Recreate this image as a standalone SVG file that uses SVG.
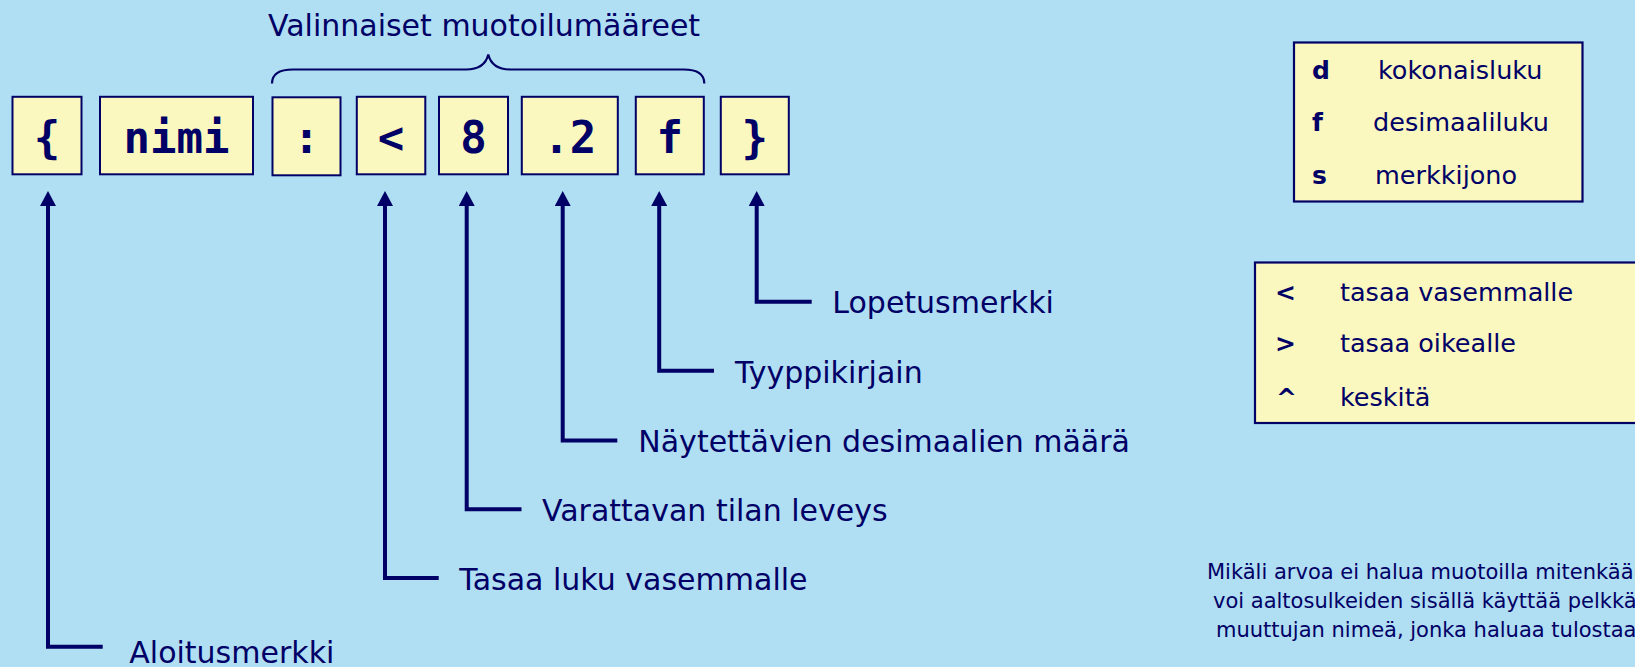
<svg xmlns="http://www.w3.org/2000/svg" width="1635" height="667" viewBox="0 0 1635 667">
<style>
.bg{fill:#B0DEF2}
.box{fill:#FAF8BE;stroke:#000066;stroke-width:2}
.lg{fill:#FAF8BE;stroke:#000066;stroke-width:2.2}
.mono{font-family:"DejaVu Sans Mono","Liberation Mono",monospace;font-weight:bold;font-size:44px;fill:#000066;text-anchor:middle}
.lbl{font-family:"DejaVu Sans","Liberation Sans",sans-serif;font-size:30px;fill:#000066}
.lt{font-family:"DejaVu Sans","Liberation Sans",sans-serif;font-size:25.5px;fill:#000066}
.lb{font-family:"DejaVu Sans","Liberation Sans",sans-serif;font-size:25px;font-weight:bold;fill:#000066}
.note{font-family:"DejaVu Sans","Liberation Sans",sans-serif;font-size:21px;fill:#000066}
.conn{fill:none;stroke:#000066;stroke-width:4;stroke-linejoin:miter;stroke-linecap:butt}
.brace{fill:none;stroke:#000066;stroke-width:2.2}
</style>
<defs>
<marker id="arr" markerUnits="userSpaceOnUse" viewBox="0 0 15 16" refX="1" refY="8" markerWidth="15" markerHeight="16" orient="auto">
<path d="M0,0 L15,8 L0,16 z" fill="#000066"/>
</marker>
</defs>
<rect class="bg" x="0" y="0" width="1635" height="667"/>

<g id="title">
<text class="lbl" x="268" y="36">Valinnaiset muotoilumääreet</text>
<path class="brace" d="M272,83.5 C272,74 280,69.5 293,69.5 L466,69.5 C480,69.5 486,64 488.3,54.5 C490.6,64 496.6,69.5 510.6,69.5 L683.6,69.5 C696.6,69.5 704.3,74 704.3,83.5"/>
</g>

<g id="node-open"><rect class="box" x="12.5" y="96.8" width="69" height="77.5"/><text class="mono" x="47" y="152.5">{</text></g>
<g id="node-nimi"><rect class="box" x="100" y="96.8" width="153" height="77.5"/><text class="mono" x="176.5" y="152.5">nimi</text></g>
<g id="node-colon"><rect class="box" x="272.5" y="97.3" width="68" height="78"/><text class="mono" x="306.5" y="152.5">:</text></g>
<g id="node-lt"><rect class="box" x="356.8" y="96.8" width="68.5" height="77.5"/><text class="mono" x="391" y="152.5">&lt;</text></g>
<g id="node-8"><rect class="box" x="439" y="96.8" width="69" height="77.5"/><text class="mono" x="473.5" y="152.5">8</text></g>
<g id="node-prec"><rect class="box" x="521.8" y="96.8" width="96" height="77.5"/><text class="mono" x="569.8" y="152.5">.2</text></g>
<g id="node-f"><rect class="box" x="635.8" y="96.8" width="68" height="77.5"/><text class="mono" x="669.8" y="152.5">f</text></g>
<g id="node-close"><rect class="box" x="720.8" y="96.8" width="68" height="77.5"/><text class="mono" x="754.8" y="152.5">}</text></g>

<g id="connectors">
<path class="conn" marker-end="url(#arr)" d="M102.7,646.7 H48 V205"/>
<path class="conn" marker-end="url(#arr)" d="M438.7,578 H385 V205"/>
<path class="conn" marker-end="url(#arr)" d="M521.5,509.3 H466.7 V205"/>
<path class="conn" marker-end="url(#arr)" d="M617.3,440.5 H562.7 V205"/>
<path class="conn" marker-end="url(#arr)" d="M714,370.8 H659.2 V205"/>
<path class="conn" marker-end="url(#arr)" d="M811.7,301.7 H756.7 V205"/>
</g>

<g id="labels">
<text class="lbl" x="129.3" y="662.5">Aloitusmerkki</text>
<text class="lbl" x="459.3" y="590">Tasaa luku vasemmalle</text>
<text class="lbl" x="542" y="521.3">Varattavan tilan leveys</text>
<text class="lbl" x="638.3" y="451.7">Näytettävien desimaalien määrä</text>
<text class="lbl" x="735" y="383.3">Tyyppikirjain</text>
<text class="lbl" x="832.3" y="313.3">Lopetusmerkki</text>
</g>

<g id="legend-types">
<rect class="lg" x="1294" y="42.5" width="288.5" height="159"/>
<text class="lb" x="1312" y="79">d</text><text class="lt" x="1378" y="79">kokonaisluku</text>
<text class="lb" x="1312" y="131">f</text><text class="lt" x="1373" y="131">desimaaliluku</text>
<text class="lb" x="1312" y="184">s</text><text class="lt" x="1375" y="184">merkkijono</text>
</g>

<g id="legend-align">
<rect class="lg" x="1255" y="262.5" width="420" height="160.5"/>
<text class="lb" x="1275" y="300.7">&lt;</text><text class="lt" x="1340" y="300.7">tasaa vasemmalle</text>
<text class="lb" x="1275" y="351.7">&gt;</text><text class="lt" x="1340" y="351.7">tasaa oikealle</text>
<text class="lb" x="1276" y="405.7">^</text><text class="lt" x="1340" y="405.7">keskitä</text>
</g>

<g id="note">
<text class="note" x="1207" y="579">Mikäli arvoa ei halua muotoilla mitenkään,</text>
<text class="note" x="1213" y="608">voi aaltosulkeiden sisällä käyttää pelkkää</text>
<text class="note" x="1216" y="636.5">muuttujan nimeä, jonka haluaa tulostaa.</text>
</g>
</svg>
